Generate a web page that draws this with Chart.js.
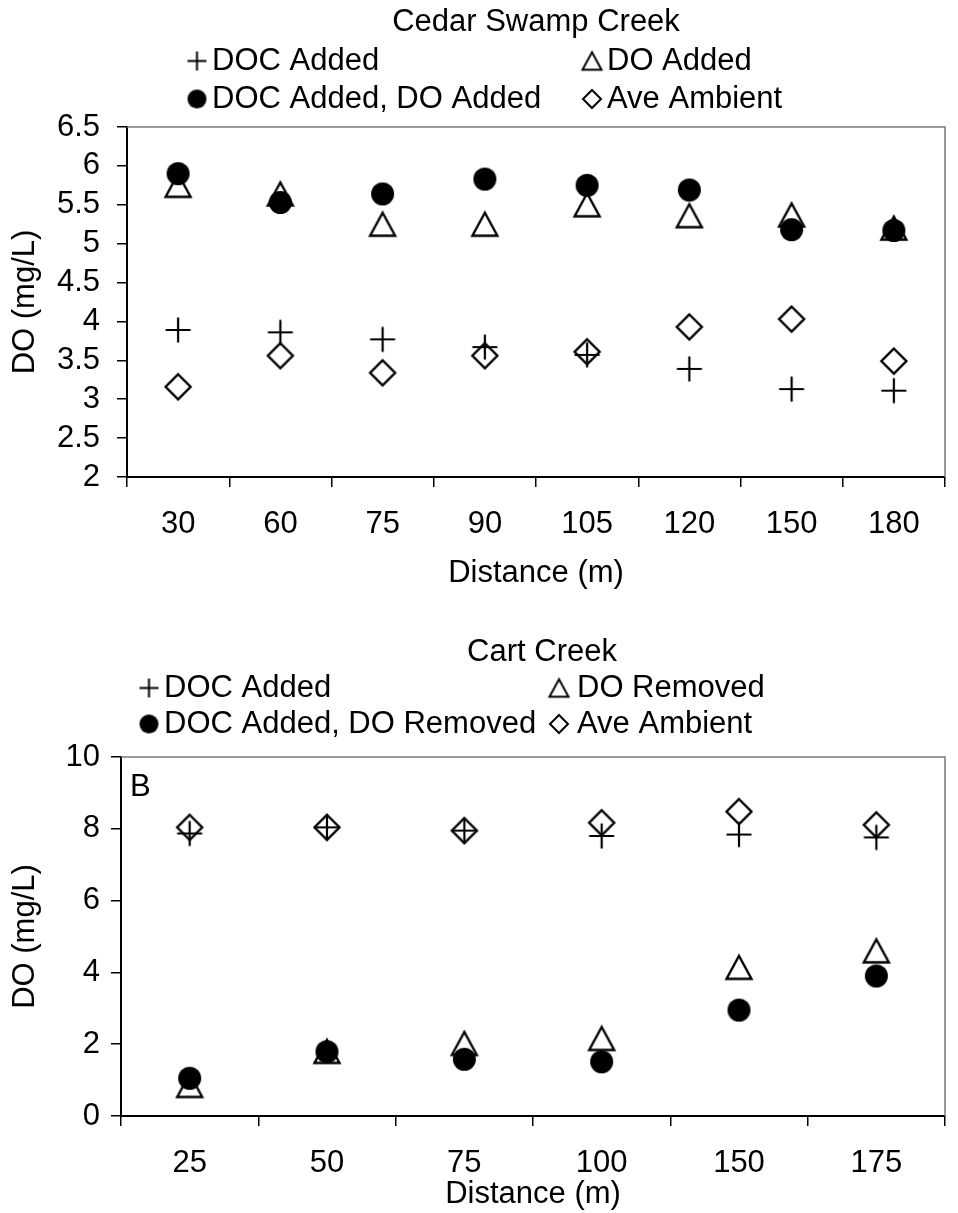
<!DOCTYPE html>
<html>
<head>
<meta charset="utf-8">
<script src="https://cdn.jsdelivr.net/npm/chart.js@4"></script>
<style>
  body { margin: 0; background: #fff; }
  .box { position: absolute; left: 0; }
</style>
</head>
<body>
<div class="box" style="top:0"><canvas id="cedar" width="958" height="600"></canvas></div>
<div class="box" style="top:600px"><canvas id="cart" width="958" height="613"></canvas></div>
<script>
// Cedar Swamp Creek
const cedarDistance = ['30', '60', '75', '90', '105', '120', '150', '180'];
const cedarDocAdded = [3.89, 3.86, 3.77, 3.67, 3.57, 3.39, 3.13, 3.11];
const cedarDoAdded = [5.75, 5.64, 5.25, 5.25, 5.50, 5.36, 5.37, 5.20];
const cedarDocDoAdded = [5.90, 5.53, 5.64, 5.83, 5.75, 5.69, 5.18, 5.17];
const cedarAmbient = [3.16, 3.56, 3.34, 3.56, 3.61, 3.93, 4.03, 3.49];

// Cart Creek
const cartDistance = ['25', '50', '75', '100', '150', '175'];
const cartDocAdded = [7.87, 8.04, 7.95, 7.80, 7.84, 7.76];
const cartDoRemoved = [0.85, 1.80, 2.02, 2.16, 4.14, 4.60];
const cartDocDoRemoved = [1.05, 1.79, 1.58, 1.51, 2.95, 3.90];
const cartAmbient = [8.04, 8.04, 7.95, 8.17, 8.48, 8.11];

const FONT = '"Liberation Sans", Arial, sans-serif';
const FS = 31;
Chart.defaults.font.family = FONT;
Chart.defaults.font.size = FS;
Chart.defaults.color = '#000';

// excel-like markers, drawn once on small canvases
function marker(kind, s, lw) {
    const size = Math.ceil(s + lw * 2 + 2);
    const c = document.createElement('canvas');
    c.width = size;
    c.height = size;
    const g = c.getContext('2d');
    const m = size / 2;
    const h = s / 2;
    g.strokeStyle = '#000';
    g.fillStyle = '#000';
    g.lineWidth = lw;
    g.beginPath();
    if (kind === 'plus') {
        g.moveTo(m - h, m);
        g.lineTo(m + h, m);
        g.moveTo(m, m - h);
        g.lineTo(m, m + h);
        g.stroke();
    } else if (kind === 'circle') {
        g.arc(m, m, h, 0, Math.PI * 2);
        g.fill();
    } else if (kind === 'triangle') {
        g.moveTo(m, m - h * 0.92);
        g.lineTo(m + h, m + h * 0.92);
        g.lineTo(m - h, m + h * 0.92);
        g.closePath();
        g.stroke();
    } else {
        g.moveTo(m, m - h);
        g.lineTo(m + h, m);
        g.lineTo(m, m + h);
        g.lineTo(m - h, m);
        g.closePath();
        g.stroke();
    }
    return c;
}

const pts = {
    plus: marker('plus', 25, 2.2),
    circle: marker('circle', 23, 1),
    triangle: marker('triangle', 25, 2.4),
    diamond: marker('diamond', 25, 2.4),
};
const legPts = {
    plus: marker('plus', 19, 2),
    circle: marker('circle', 19, 1),
    triangle: marker('triangle', 19, 2),
    diamond: marker('diamond', 18, 2),
};

function ds(label, data, kind, order) {
    return {
        label: label,
        data: data,
        showLine: false,
        pointStyle: pts[kind],
        pointRadius: 12,
        pointHoverRadius: 12,
        order: order,
    };
}

// title + 2x2 legend + frame, placed like the original figure
const figurePlugin = {
    id: 'figure',
    afterDraw(chart, args, opts) {
        const ctx = chart.ctx;
        const a = chart.chartArea;
        ctx.save();
        ctx.strokeStyle = '#7a7a7a';
        ctx.lineWidth = 1.5;
        ctx.beginPath();
        ctx.moveTo(a.left, a.top);
        ctx.lineTo(a.right, a.top);
        ctx.lineTo(a.right, a.bottom);
        ctx.stroke();

        ctx.fillStyle = '#000';
        ctx.font = FS + 'px ' + FONT;
        ctx.textBaseline = 'middle';
        ctx.textAlign = 'center';
        ctx.fillText(opts.title, opts.titleX, opts.titleY);
        ctx.textAlign = 'left';
        opts.items.forEach(function (it, i) {
            const col = i % 2;
            const row = Math.floor(i / 2);
            const y = opts.rowY[row];
            const mk = legPts[it.kind];
            ctx.drawImage(mk, opts.markX[col] - mk.width / 2, y - mk.height / 2);
            ctx.fillText(it.text, opts.textX[col], y);
        });
        if (opts.tag) {
            ctx.fillText(opts.tag, a.left + 9, a.top + 30);
        }
        ctx.restore();
    },
};

function noZero(v) {
    return v;
}

function axes(cats, min, max, step, yWidth, xHeight, xTickPad, xTitlePad, yTitlePad, yTickPad) {
    return {
        x: {
            type: 'category',
            labels: cats,
            offset: true,
            grid: {
                offset: true,
                drawOnChartArea: false,
                drawTicks: true,
                tickLength: 10,
                color: '#000',
                lineWidth: 1.5,
            },
            border: { color: '#000', width: 2 },
            ticks: { color: '#000', padding: xTickPad, font: { size: FS }, autoSkip: false, maxRotation: 0 },
            title: { display: true, text: 'Distance (m)', color: '#000', font: { size: FS }, padding: { top: 0, bottom: xTitlePad } },
            afterFit: function (scale) {
                scale.height = xHeight;
            },
        },
        y: {
            min: min,
            max: max,
            grid: {
                drawOnChartArea: false,
                drawTicks: true,
                tickLength: 10,
                color: '#000',
                lineWidth: 1.5,
            },
            border: { color: '#000', width: 2 },
            ticks: { stepSize: step, color: '#000', padding: yTickPad, font: { size: FS }, autoSkip: false, callback: noZero },
            title: { display: true, text: 'DO (mg/L)', color: '#000', font: { size: FS }, padding: { top: yTitlePad, bottom: 0 } },
            afterFit: function (scale) {
                scale.width = yWidth;
            },
        },
    };
}

new Chart(document.getElementById('cedar'), {
    type: 'line',
    data: {
        labels: cedarDistance,
        datasets: [
            ds('DOC Added', cedarDocAdded, 'plus', 3),
            ds('DO Added', cedarDoAdded, 'triangle', 2),
            ds('DOC Added, DO Added', cedarDocDoAdded, 'circle', 0),
            ds('Ave Ambient', cedarAmbient, 'diamond', 1),
        ],
    },
    options: {
        responsive: false,
        animation: false,
        devicePixelRatio: 1,
        layout: { padding: { top: 127, right: 1, left: 0, bottom: 0 } },
        plugins: {
            legend: { display: false },
            tooltip: { enabled: false },
            figure: {
                title: 'Cedar Swamp Creek',
                titleX: 536,
                titleY: 22,
                rowY: [61, 99],
                markX: [197, 592],
                textX: [212, 607],
                items: [
                    { text: 'DOC Added', kind: 'plus' },
                    { text: 'DO Added', kind: 'triangle' },
                    { text: 'DOC Added, DO Added', kind: 'circle' },
                    { text: 'Ave Ambient', kind: 'diamond' },
                ],
            },
        },
        scales: axes(cedarDistance, 2, 6.5, 0.5, 127, 123, 19, 8, 7, 17),
    },
    plugins: [figurePlugin],
});

new Chart(document.getElementById('cart'), {
    type: 'line',
    data: {
        labels: cartDistance,
        datasets: [
            ds('DOC Added', cartDocAdded, 'plus', 3),
            ds('DO Removed', cartDoRemoved, 'triangle', 2),
            ds('DOC Added, DO Removed', cartDocDoRemoved, 'circle', 0),
            ds('Ave Ambient', cartAmbient, 'diamond', 1),
        ],
    },
    options: {
        responsive: false,
        animation: false,
        devicePixelRatio: 1,
        layout: { padding: { top: 157, right: 3, left: 0, bottom: 0 } },
        plugins: {
            legend: { display: false },
            tooltip: { enabled: false },
            figure: {
                title: 'Cart Creek',
                titleX: 542,
                titleY: 52,
                rowY: [88, 124],
                markX: [149, 559],
                textX: [164, 577],
                items: [
                    { text: 'DOC Added', kind: 'plus' },
                    { text: 'DO Removed', kind: 'triangle' },
                    { text: 'DOC Added, DO Removed', kind: 'circle' },
                    { text: 'Ave Ambient', kind: 'diamond' },
                ],
                tag: 'B',
            },
        },
        scales: axes(cartDistance, 0, 10, 2, 121, 97, 19, 0, 7, 11),
    },
    plugins: [figurePlugin],
});
</script>
</body>
</html>
